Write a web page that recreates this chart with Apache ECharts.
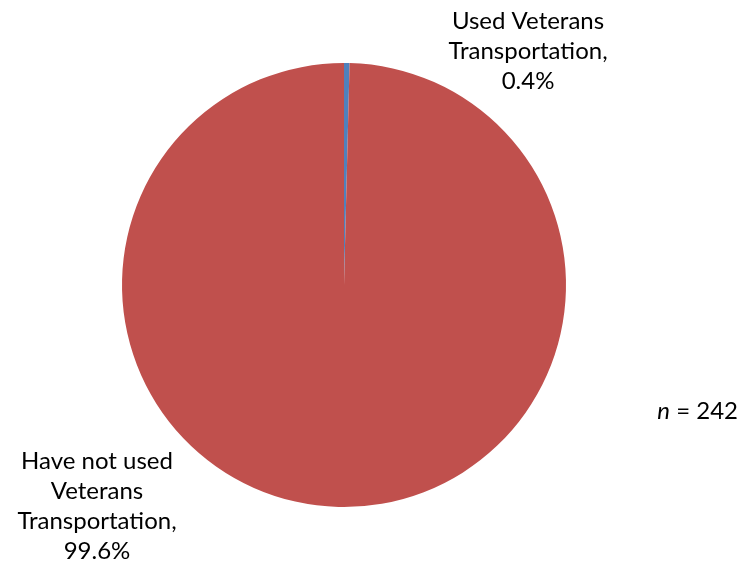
<!DOCTYPE html>
<html>
<head>
<meta charset="utf-8">
<script src="https://cdn.jsdelivr.net/npm/echarts@6/dist/echarts.min.js"></script>
<style>
html, body { margin: 0; padding: 0; background: #fff; }
#chart { width: 747px; height: 569px; }
</style>
</head>
<body>
<div id="chart"></div>
<script>
// Share of respondents by use of Veterans Transportation
const categories = ['Used Veterans\nTransportation', 'Have not used\nVeterans\nTransportation'];
const shares = [0.4, 99.6];
const sliceColors = ['#4F81BD', '#C0504D'];
const sampleSize = 242;

// Fixed anchor points for the two outside labels
const labelAnchors = [
  { x: 528, y: 51 },
  { x: 97, y: 506 }
];

const FONT = 'Lato';
const FONT_SIZE = 24;

const chart = echarts.init(document.getElementById('chart'), null, { renderer: 'canvas' });

chart.setOption({
  animation: false,
  backgroundColor: '#ffffff',
  textStyle: { fontFamily: FONT },
  series: [{
    type: 'pie',
    center: [344, 285],
    radius: [0, 222],
    startAngle: 90,
    clockwise: true,
    minAngle: 0,
    avoidLabelOverlap: false,
    itemStyle: { borderWidth: 0 },
    label: {
      show: true,
      position: 'outside',
      color: '#000',
      fontFamily: FONT,
      fontSize: FONT_SIZE,
      lineHeight: 30,
      align: 'center',
      formatter: p => p.name + ',\n' + p.value.toFixed(1) + '%'
    },
    labelLine: { show: false },
    labelLayout: p => ({
      x: labelAnchors[p.dataIndex].x,
      y: labelAnchors[p.dataIndex].y,
      align: 'center',
      verticalAlign: 'middle'
    }),
    data: categories.map((c, i) => ({
      name: c,
      value: shares[i],
      itemStyle: { color: sliceColors[i] }
    }))
  }],
  graphic: [{
    type: 'text',
    x: 738,
    y: 411,
    style: {
      text: '{i|n} = ' + sampleSize,
      fontFamily: FONT,
      fontSize: FONT_SIZE,
      fill: '#000',
      align: 'right',
      verticalAlign: 'middle',
      rich: {
        i: { fontStyle: 'italic', fontFamily: FONT, fontSize: FONT_SIZE, fill: '#000' }
      }
    }
  }]
});
</script>
</body>
</html>
